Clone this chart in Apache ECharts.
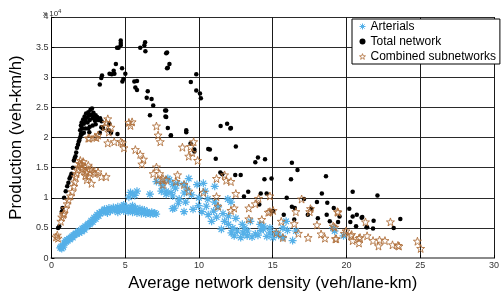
<!DOCTYPE html>
<html>
<head>
<meta charset="utf-8">
<script src="https://cdn.jsdelivr.net/npm/echarts@6/dist/echarts.min.js"></script>
<style>
    html, body {margin: 0; padding: 0; background: #fff;}
    #chart {width: 502px; height: 297px;}
</style>
</head>
<body>
<div id="chart"></div>
<script>
// density (veh/lane-km), production (veh-km/h)
const arterials = [
    [0.6, 1700], [0.65, 1900], [0.7, 1600], [0.75, 2000], [0.8, 1800], [0.9, 2500], [0.95, 2800], [1.0, 2700],
    [1.05, 3000], [1.1, 2900], [1.2, 3200], [1.25, 3100], [1.3, 3400], [1.4, 3600], [1.45, 3400], [1.5, 3800],
    [1.6, 3900], [1.65, 4100], [1.7, 4000], [1.8, 4300], [1.85, 4500], [1.9, 4200], [2.0, 4600], [2.05, 4400],
    [2.1, 4900], [2.2, 5000], [2.25, 4700], [2.3, 5300], [2.4, 5200], [2.45, 5500], [2.5, 5700], [2.6, 5600],
    [2.65, 5900], [2.7, 6200], [2.8, 6000], [2.85, 6400], [2.9, 6700], [3.0, 6500], [3.05, 6900], [3.1, 7200],
    [3.2, 7000], [3.25, 7500], [3.3, 7400], [3.4, 7700], [3.5, 7600], [3.55, 7900], [3.6, 8100], [3.7, 7700],
    [3.8, 8000], [3.9, 8300], [4.0, 7800], [4.1, 8100], [4.2, 8400], [4.3, 7900], [4.4, 8200], [4.5, 8500],
    [4.6, 8000], [4.7, 8300], [4.8, 8600], [4.9, 7800], [5.0, 8200], [5.1, 8500], [5.2, 7700], [5.3, 8100],
    [5.4, 8400], [5.5, 7600], [5.6, 8000], [5.7, 8300], [5.8, 7500], [5.9, 7900], [6.0, 8200], [6.1, 7400],
    [6.2, 7800], [6.3, 8000], [6.4, 7300], [6.5, 7700], [6.6, 7500], [6.7, 7300], [6.8, 7600], [6.9, 7400],
    [7.0, 7500], [7.1, 7300], [3.8, 7500], [4.5, 7600], [5.5, 8700], [4.9, 8800],
    [5.25, 10100], [5.36, 10900], [5.5, 10600], [5.8, 11100], [5.65, 10400], [6.68, 10600], [7.12, 12700],
    [7.56, 12500], [7.89, 13200], [7.45, 11100], [7.78, 10600], [8.22, 10300], [8.33, 8300], [7.78, 11100],
    [8.0, 13000], [8.11, 10900], [8.22, 12200], [8.55, 12400], [8.66, 9800], [8.99, 12200], [9.1, 9300],
    [9.31, 13200], [9.21, 11500], [8.22, 8200], [8.99, 7700], [9.87, 12200], [10.3, 12400], [10.42, 11100],
    [11.07, 11900], [9.97, 8700], [10.2, 7700], [10.63, 7200], [10.86, 6100], [11.63, 7400], [11.74, 6100],
    [11.52, 4800], [12.29, 5000], [12.39, 3700], [12.83, 3400], [13.27, 3700], [13.82, 4000], [14.37, 4800],
    [14.81, 4200], [12.5, 6600], [12.94, 5600], [13.49, 6100], [14.15, 5600], [11.07, 9300], [11.96, 9800],
    [12.17, 9300], [14.37, 5300], [14.81, 5000], [15.25, 4200], [15.69, 5000], [15.91, 6100], [15.69, 3400],
    [16.35, 2900], [16.57, 4500], [15.03, 3400], [19.1, 5000], [19.2, 4500], [19.8, 3700],
    [9.5, 10500], [9.0, 10800], [10.0, 10000], [10.6, 9800], [11.3, 8500], [11.0, 7800], [12.0, 7000],
    [12.6, 4500], [13.0, 4200], [13.6, 3500], [14.0, 3800], [14.6, 3600], [13.1, 5000], [12.0, 5600],
    [11.2, 6800], [10.5, 8600], [9.6, 8100], [8.6, 9100], [7.5, 12000], [8.4, 11600], [15.4, 3800],
    [16.0, 4600], [13.3, 4500], [12.2, 4200], [14.2, 4600]
];

const totalNetwork = [
    [0.45, 5000], [0.53, 5300], [0.7, 7700], [0.75, 8300], [0.86, 10000], [0.97, 11100], [1.07, 11900],
    [1.15, 12500], [1.23, 13200], [1.3, 13600], [1.36, 14000], [1.45, 15000], [1.52, 16200], [1.58, 16600],
    [1.63, 16900], [1.68, 17500], [1.73, 18300], [1.8, 18800], [1.85, 19300], [1.9, 19600], [1.96, 20100],
    [2.0, 20600], [2.06, 21600],
    [1.95, 21200], [2.0, 22000], [2.05, 22500], [2.1, 21500], [2.15, 23000], [2.2, 22300], [2.25, 23500],
    [2.3, 22800], [2.35, 24000], [2.4, 23300], [2.45, 22500], [2.5, 24200], [2.55, 23600], [2.6, 22900],
    [2.65, 24600], [2.7, 23800], [2.75, 24800], [2.8, 23200], [2.85, 24100], [2.9, 23500], [2.95, 22800],
    [3.0, 23700], [3.05, 23000], [3.1, 23400], [3.2, 22900], [3.3, 23200], [3.4, 22700], [2.3, 21500],
    [2.6, 21800], [2.2, 20800], [2.5, 21500], [2.05, 20500], [2.8, 22000], [3.0, 22200],
    [2.57, 20900], [3.28, 20800], [3.49, 21500], [3.89, 21200], [3.45, 21700], [3.93, 22300], [4.04, 20800],
    [4.48, 20600], [3.38, 21700],
    [3.28, 28800], [3.38, 29900], [3.43, 30300], [3.94, 30600], [4.09, 30500], [4.27, 30600], [4.22, 31100],
    [4.37, 32200], [4.79, 31500], [5.01, 30600], [4.88, 29700], [4.81, 29300], [4.45, 34900], [4.55, 34900],
    [4.7, 35300], [4.7, 35700], [4.7, 36100], [6.02, 34900], [6.3, 35300], [6.35, 35800], [6.37, 34300],
    [7.78, 34000], [7.84, 34100], [8.0, 32200], [7.84, 31500], [7.89, 31600], [5.62, 29300], [5.8, 29400],
    [5.69, 28300], [5.8, 27900], [6.53, 27700], [6.46, 26600], [6.79, 26400], [6.9, 25300], [7.71, 24500],
    [7.73, 23500], [6.68, 23700], [7.78, 24500], [7.78, 23400], [7.89, 21600], [8.09, 20300], [8.1, 20400],
    [9.14, 21200], [9.14, 20900], [9.82, 30500], [9.45, 29200], [9.82, 27800], [10.07, 27300], [10.13, 26500],
    [11.47, 21900], [11.91, 22300], [12.13, 21500], [12.17, 21600], [9.43, 19000], [9.69, 18000],
    [9.69, 17700], [10.63, 18100], [10.74, 18000], [11.14, 16500], [12.5, 18500], [13.82, 15900],
    [14.0, 16700], [14.48, 16400], [11.45, 14200], [11.58, 13900], [12.46, 13800], [12.83, 13800],
    [14.44, 13100], [14.92, 13200], [13.34, 11000], [13.05, 10200], [14.19, 10700], [14.59, 10700],
    [14.09, 8900], [14.92, 7800], [15.03, 7800], [16.3, 15800], [16.68, 14600], [18.61, 13600],
    [16.24, 13100], [18.33, 10700], [20.42, 11000], [15.95, 10000], [17.12, 9800], [18.0, 9300],
    [18.7, 9200], [16.3, 8500], [16.5, 8300], [17.62, 8200], [19.14, 8300], [19.53, 6900], [20.19, 8200],
    [20.7, 7200], [21.03, 6700], [20.42, 6900], [17.38, 7200], [18.66, 7200], [15.75, 7200], [16.46, 6400],
    [18.06, 6600], [18.87, 6100], [19.43, 6000], [20.26, 6000], [20.65, 5300], [21.4, 5100], [22.1, 10400],
    [21.07, 6800], [21.84, 6200], [21.36, 5100], [21.8, 4900], [23.2, 5000], [23.65, 6500]
];

const combinedSubnetworks = [
    [0.31, 3500], [0.4, 3800], [0.45, 3300], [0.64, 6100], [0.7, 6800], [0.8, 7200], [0.86, 7400],
    [0.95, 8200], [1.07, 9000], [1.15, 9600], [1.3, 10300], [1.4, 11000], [1.52, 11900], [1.58, 12600],
    [1.63, 13500], [1.7, 14000], [1.75, 14600], [1.85, 15100], [1.9, 15700], [1.96, 16200], [2.0, 15500],
    [2.06, 15600], [2.15, 16000], [2.29, 15100], [2.2, 14500], [2.35, 14200], [2.5, 15400], [2.62, 14600],
    [2.72, 14800], [2.83, 14300], [2.95, 14000], [2.5, 13500], [2.72, 12400], [3.16, 14300], [3.38, 13500],
    [3.71, 13500], [2.4, 13000], [2.1, 14800], [2.3, 13700],
    [2.5, 19900], [2.57, 19900], [2.95, 20100], [3.05, 20000], [3.16, 20400], [3.82, 19100], [4.26, 19300],
    [4.81, 19100], [4.92, 18300], [4.7, 19300], [3.71, 22500], [3.82, 23100], [3.61, 21800], [3.89, 20900],
    [4.04, 21700], [5.25, 22500], [5.47, 22600], [5.36, 22000], [7.12, 21900], [7.23, 20400], [7.38, 19300],
    [5.69, 18000], [6.02, 17200], [6.24, 16400], [6.13, 15600], [7.12, 15100], [6.9, 14000], [7.23, 13000],
    [7.56, 13200], [7.34, 14000], [7.56, 12200],
    [9.64, 19300], [9.43, 18500], [8.88, 18400], [9.31, 16900], [9.54, 17500], [9.91, 16200], [7.78, 13000],
    [8.55, 13800], [8.44, 12700], [8.99, 12200], [9.31, 11100], [10.3, 10900], [11.19, 13200],
    [11.74, 13800], [11.85, 12900], [12.17, 12700], [12.5, 10700], [11.19, 10200], [11.29, 8600],
    [12.17, 7900], [12.39, 8300], [13.38, 8300], [13.82, 9000], [14.04, 9900], [13.38, 6500], [14.26, 6400],
    [14.81, 7700], [14.81, 10300], [14.7, 7600], [15.03, 7900], [15.58, 6100], [16.46, 5700], [16.57, 7700],
    [16.96, 9800], [17.56, 8200], [17.51, 7700], [18.0, 5500], [19.43, 7600], [19.2, 5100], [21.29, 6000],
    [15.25, 4200], [15.69, 3400], [17.4, 3400], [16.74, 4100], [18.28, 4000], [18.54, 3300], [19.25, 3200],
    [19.86, 4100], [20.3, 3700], [20.42, 2900], [20.85, 3300], [20.85, 2500], [21.4, 3700], [19.38, 7700],
    [19.1, 5300], [19.97, 4500], [19.31, 3200], [20.35, 3900], [20.92, 3400], [21.8, 2900], [22.24, 3000],
    [22.61, 2900], [22.17, 2000], [23.12, 2200], [23.49, 2100], [23.56, 2000], [22.98, 6000], [24.81, 2800],
    [25.03, 1600]
];

const seriesNames = ['Arterials', 'Total network', 'Combined subnetworks'];

const BLUE = '#55b0e8';
const BROWN = '#b0703c';
const asterisk = 'path://M5,0L5,10M0,5L10,5M1.5,1.5L8.5,8.5M1.5,8.5L8.5,1.5';
const star = 'path://M10,0L12.35,6.76L19.51,6.91L13.8,11.24L15.88,18.09L10,14L4.12,18.09L6.2,11.24L0.49,6.91L7.65,6.76Z';

const FONT = 'Liberation Sans, Arial, sans-serif';
const chart = echarts.init(document.getElementById('chart'), null, {renderer: 'canvas'});

chart.setOption({
    animation: false,
    backgroundColor: '#fff',
    textStyle: {fontFamily: FONT},
    grid: {left: 42, right: 5, top: 17, bottom: 29},
    legend: {
        orient: 'vertical',
        left: 352,
        top: 19,
        padding: [0, 4, 0, 5],
        itemGap: 0,
        itemWidth: 6,
        itemHeight: 6,
        itemTextGap: 4,
        backgroundColor: '#fff',
        borderColor: '#000',
        borderWidth: 1,
        textStyle: {fontFamily: FONT, fontSize: 12, color: '#000', lineHeight: 15},
        data: [
            {name: seriesNames[0], icon: asterisk, itemStyle: {color: 'none', borderColor: BLUE, borderWidth: 1}},
            {name: seriesNames[1], icon: 'circle', itemStyle: {color: '#000'}},
            {name: seriesNames[2], icon: star, itemStyle: {color: 'none', borderColor: BROWN, borderWidth: 0.8}}
        ]
    },
    graphic: [{
        type: 'text',
        left: 43,
        top: 8,
        style: {
            text: 'x 10{s|4}',
            font: '8px ' + FONT,
            fill: '#333',
            rich: {s: {fontSize: 6, verticalAlign: 'top', padding: [0, 0, 5, 0], fill: '#333'}}
        }
    }],
    xAxis: [{
        type: 'value',
        min: 0,
        max: 30,
        interval: 5,
        name: 'Average network density (veh/lane-km)',
        nameLocation: 'middle',
        nameGap: 14,
        nameTextStyle: {fontFamily: FONT, fontSize: 16.7, color: '#000', verticalAlign: 'top'},
        axisLine: {show: true, onZero: false, lineStyle: {color: '#000', width: 1}},
        axisTick: {show: true, inside: true, length: 3, lineStyle: {color: '#000'}},
        axisLabel: {fontFamily: FONT, fontSize: 9, color: '#333', margin: 3},
        splitLine: {show: true, lineStyle: {color: '#1a1a1a', width: 1}}
    }, {
        type: 'value',
        position: 'top',
        min: 0,
        max: 30,
        axisLine: {show: true, lineStyle: {color: '#8a8a8a', width: 2}},
        axisTick: {show: false},
        axisLabel: {show: false},
        splitLine: {show: false}
    }],
    yAxis: {
        type: 'value',
        min: 0,
        max: 40000,
        interval: 5000,
        name: 'Production (veh-km/h)',
        nameLocation: 'middle',
        nameGap: 16,
        nameTextStyle: {fontFamily: FONT, fontSize: 16.7, color: '#000'},
        axisLine: {show: true, onZero: false, lineStyle: {color: '#000', width: 1}},
        axisTick: {show: true, inside: true, length: 3, lineStyle: {color: '#000'}},
        axisLabel: {
            fontFamily: FONT, fontSize: 9, color: '#333', margin: 3,
            formatter: v => String(v / 10000)
        },
        splitLine: {show: true, lineStyle: {color: '#2a2a2a', width: 1}}
    },
    series: [{
        name: seriesNames[0],
        type: 'scatter',
        data: arterials,
        symbol: asterisk,
        symbolSize: 8,
        itemStyle: {color: 'none', borderColor: BLUE, borderWidth: 1.2, opacity: 1}
    }, {
        name: seriesNames[1],
        type: 'scatter',
        data: totalNetwork,
        symbol: 'circle',
        symbolSize: 4.5,
        itemStyle: {color: '#000', opacity: 1}
    }, {
        name: seriesNames[2],
        type: 'scatter',
        data: combinedSubnetworks,
        symbol: star,
        symbolSize: 8,
        itemStyle: {color: 'none', borderColor: BROWN, borderWidth: 0.9, opacity: 1}
    }]
});
</script>
</body>
</html>
